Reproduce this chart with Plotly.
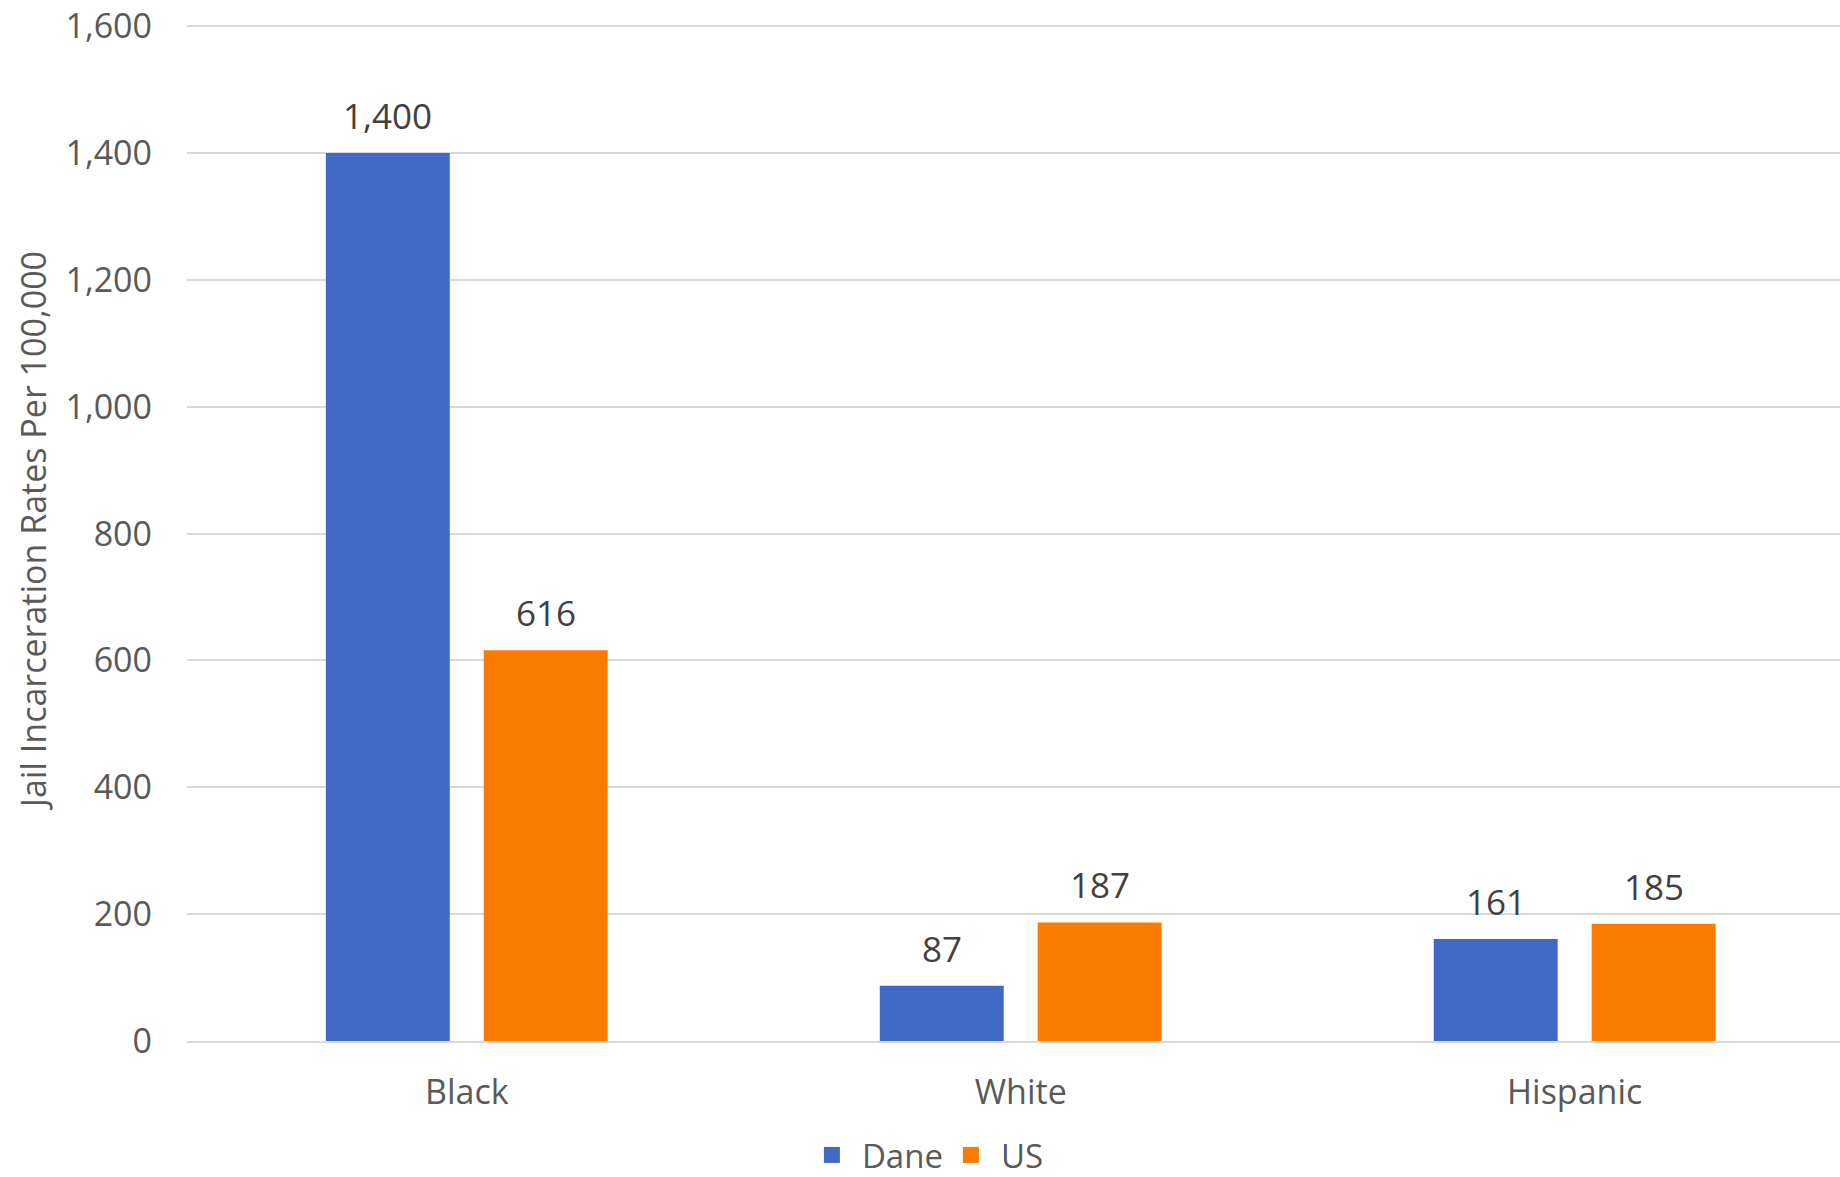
import plotly.graph_objects as go

categories = ["Black", "White", "Hispanic"]
dane_values = [1400, 87, 161]
us_values = [616, 187, 185]
series_names = ["Dane", "US"]
y_ticks = [0, 200, 400, 600, 800, 1000, 1200, 1400, 1600]
y_title = "Jail Incarceration Rates Per 100,000"

BLUE = "#4169C6"
ORANGE = "#FA7B00"
FONT = "Open Sans"
BARGAP = 0.43
BARGROUPGAP = 0.215

fig = go.Figure()
fig.add_trace(go.Bar(name=series_names[0], x=categories, y=dane_values,
                     marker=dict(color=BLUE, line=dict(width=0)), showlegend=False))
fig.add_trace(go.Bar(name=series_names[1], x=categories, y=us_values,
                     marker=dict(color=ORANGE, line=dict(width=0)), showlegend=False))
# legend entries with larger square swatches
for name, color in zip(series_names, (BLUE, ORANGE)):
    fig.add_trace(go.Scatter(name=name, x=[None], y=[None], mode="markers",
                             marker=dict(symbol="square", size=17, color=color),
                             showlegend=True, hoverinfo="skip"))

# data labels above bars, positioned from data through axis scale
offset = (1 - BARGAP) / 4
annotations = []
for i, cat in enumerate(categories):
    for vals, sign in ((dane_values, -1), (us_values, 1)):
        annotations.append(dict(
            x=i + sign * offset, y=vals[i], xref="x", yref="y",
            text=f"{vals[i]:,}", showarrow=False, yanchor="bottom",
            yshift=12, font=dict(family=FONT, size=35, color="#404040")))

annotations.append(dict(
    x=-0.093, y=0.502, xref="paper", yref="paper", text=y_title,
    textangle=-90, showarrow=False, xanchor="center", yanchor="middle",
    font=dict(family=FONT, size=34, color="#595959")))

fig.update_layout(
    width=1840, height=1177,
    margin=dict(l=187, r=0, t=25, b=136, pad=0, autoexpand=False),
    paper_bgcolor="white", plot_bgcolor="white",
    barmode="group", bargap=BARGAP, bargroupgap=BARGROUPGAP,
    font=dict(family=FONT, size=34, color="#595959"),
    showlegend=True,
    legend=dict(orientation="h", x=0.372, xanchor="left",
                yref="container", y=0.0187, yanchor="middle",
                font=dict(family=FONT, size=33, color="#595959"),
                itemwidth=50, tracegroupgap=0,
                entrywidth=74, entrywidthmode="pixels"),
    annotations=annotations,
)
fig.update_xaxes(
    type="category", range=[-0.505, 2.479], showline=True, linecolor="#d9d9d9",
    linewidth=2, ticks="", showgrid=False, zeroline=False, automargin=False,
    tickfont=dict(family=FONT, size=34, color="#595959"), ticklabelstandoff=20,
)
fig.update_yaxes(
    range=[0, 1602], tickvals=y_ticks, tickformat=",", showgrid=True,
    gridcolor="#d9d9d9", gridwidth=1.5, zeroline=False, showline=False, ticks="",
    automargin=False, ticklabeloverflow="allow",
    tickfont=dict(family=FONT, size=34, color="#595959"), ticklabelstandoff=34,
)

fig.write_html("out.html", config={"displayModeBar": False},
               post_script="document.body.style.margin='0';")
